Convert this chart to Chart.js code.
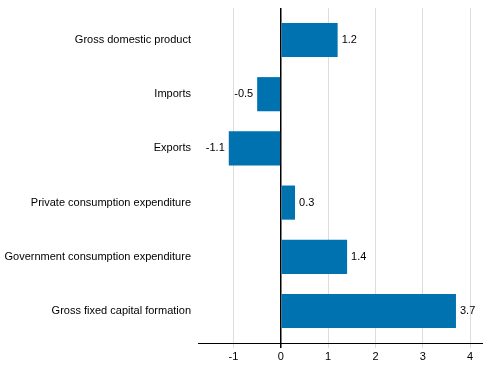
<!DOCTYPE html>
<html><head><meta charset="utf-8">
<script src="https://cdn.jsdelivr.net/npm/chart.js@4"></script>
<style>html,body{margin:0;padding:0;background:#fff}#wrap{width:491px;height:378px}</style>
</head><body><div id="wrap"><canvas id="c" width="491" height="378"></canvas></div>
<script>
const categories = ["Gross domestic product","Imports","Exports","Private consumption expenditure","Government consumption expenditure","Gross fixed capital formation"];
const values = [1.2, -0.5, -1.1, 0.3, 1.4, 3.7];
const xTicks = [-1, 0, 1, 2, 3, 4];
const FONT = "'Liberation Sans', Arial, sans-serif";

const valueLabels = {
  id: 'valueLabels',
  afterDatasetsDraw(chart) {
    const ctx = chart.ctx;
    const meta = chart.getDatasetMeta(0);
    ctx.save();
    ctx.font = "11px " + FONT;
    ctx.fillStyle = '#000';
    ctx.textBaseline = 'middle';
    meta.data.forEach((bar, i) => {
      const v = values[i];
      if (v >= 0) { ctx.textAlign = 'left'; ctx.fillText(String(v), bar.x + 4, bar.y); }
      else { ctx.textAlign = 'right'; ctx.fillText(String(v), bar.x - 4, bar.y); }
    });
    ctx.restore();
  }
};

new Chart(document.getElementById('c'), {
  type: 'bar',
  data: { labels: categories, datasets: [{ data: values, backgroundColor: '#0072B0', barPercentage: 0.63, categoryPercentage: 1.0 }] },
  options: {
    indexAxis: 'y', responsive: false, animation: false,
    layout: { padding: { top: 8, right: 9, left: 0, bottom: 0 } },
    plugins: { legend: { display: false }, tooltip: { enabled: false } },
    scales: {
      x: {
        min: -1.75, max: 4.25,
        afterFit(s) { s.height = 35; s.paddingLeft = 0; s.paddingRight = 0; },
        afterBuildTicks(s) { s.ticks = xTicks.map(v => ({ value: v })); },
        ticks: { stepSize: 1, includeBounds: false, color: '#000', font: { family: FONT, size: 11 }, padding: 2 },
        grid: {
          color: c => (c.tick && c.tick.value === 0) ? '#000' : '#dcdcdc',
          tickColor: c => (c.tick && c.tick.value === 0) ? '#000' : '#dcdcdc',
          lineWidth: c => (c.tick && c.tick.value === 0) ? 1.5 : 1,
          tickLength: 5
        },
        border: { display: true, color: '#000', width: 1 }
      },
      y: {
        afterFit(s) { s.width = 198; s.paddingTop = 0; s.paddingBottom = 0; },
        afterBuildTicks(s) { s._startValue -= 0.09; s._valueRange += 0.18; },
        ticks: { color: '#000', font: { family: FONT, size: 11 }, padding: 7 },
        grid: { display: false, drawTicks: false },
        border: { display: false }
      }
    }
  },
  plugins: [valueLabels]
});
</script></body></html>
